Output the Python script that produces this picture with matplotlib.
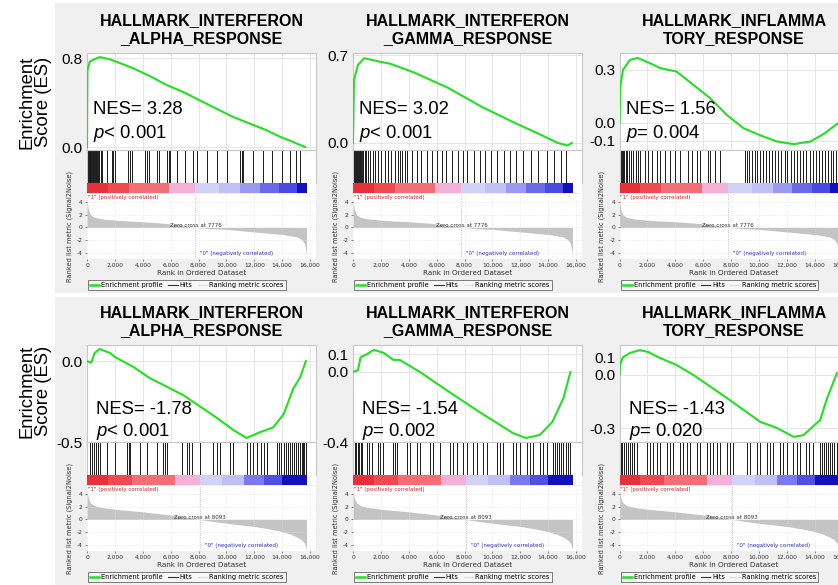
import matplotlib
matplotlib.use("Agg")
import matplotlib.pyplot as plt
from matplotlib.lines import Line2D
from matplotlib.patches import Rectangle

plt.rcParams["font.family"] = ["Liberation Sans", "DejaVu Sans"]
plt.rcParams["mathtext.fontset"] = "custom"
plt.rcParams["mathtext.it"] = "Liberation Sans:italic"
plt.rcParams["mathtext.rm"] = "Liberation Sans"

W, H = 838, 585

# ---- data ----
gene_sets = ["HALLMARK_INTERFERON\n_ALPHA_RESPONSE",
             "HALLMARK_INTERFERON\n_GAMMA_RESPONSE",
             "HALLMARK_INFLAMMA\nTORY_RESPONSE"]

nes_top = ["3.28", "3.02", "1.56"]
p_top = ["< 0.001", "< 0.001", "= 0.004"]
nes_bottom = ["-1.78", "-1.54", "-1.43"]
p_bottom = ["< 0.001", "= 0.002", "= 0.020"]

es_ticks_top = [[0.0, 0.8], [0.0, 0.7], [-0.1, 0.0, 0.3]]
es_ticks_bottom = [[-0.5, 0.0], [-0.4, 0.0, 0.1], [-0.3, 0.0, 0.1]]

# running enrichment score curves (rank, ES)
es_rank_top = [
    [0, 30, 200, 700, 930, 1650, 2500, 3300, 4500, 5700, 7000, 8100, 9300, 10500, 11700, 12900, 13900, 14800, 15650],
    [0, 70, 350, 800, 2000, 2700, 4400, 6800, 9200, 11600, 13500, 14700, 15400, 15700],
    [0, 50, 250, 750, 1300, 2400, 2900, 4100, 5300, 6500, 7700, 8900, 10100, 11300, 12500, 13700, 14700, 15700],
]
es_val_top = [
    [0.0, 0.69, 0.77, 0.80, 0.81, 0.79, 0.75, 0.71, 0.64, 0.56, 0.49, 0.42, 0.345, 0.27, 0.21, 0.15, 0.09, 0.045, 0.0],
    [0.0, 0.5, 0.62, 0.675, 0.645, 0.63, 0.56, 0.44, 0.29, 0.16, 0.064, 0.0, -0.02, 0.0],
    [0.0, 0.2, 0.3, 0.356, 0.367, 0.33, 0.31, 0.29, 0.215, 0.14, 0.045, -0.03, -0.07, -0.105, -0.12, -0.105, -0.06, 0.0],
]
es_rank_bottom = [
    [0, 300, 550, 900, 1650, 2000, 3300, 4500, 6900, 9300, 10500, 11450, 12400, 13350, 14100, 14800, 15300, 15700],
    [0, 350, 550, 900, 1500, 2200, 2900, 3350, 4800, 6700, 9100, 11500, 12400, 13400, 14300, 15100, 15600],
    [0, 30, 250, 750, 1450, 2050, 2900, 4100, 5300, 7700, 10100, 11300, 12500, 13200, 14400, 14900, 15600],
]
es_val_bottom = [
    [0.0, -0.01, 0.05, 0.074, 0.05, 0.025, -0.035, -0.105, -0.21, -0.35, -0.426, -0.475, -0.44, -0.41, -0.33, -0.17, -0.1, 0.0],
    [0.0, 0.01, 0.085, 0.097, 0.126, 0.109, 0.069, 0.069, 0.0, -0.103, -0.23, -0.35, -0.377, -0.36, -0.286, -0.149, 0.0],
    [0.0, 0.056, 0.1, 0.124, 0.14, 0.13, 0.096, 0.056, 0.0, -0.13, -0.265, -0.3, -0.35, -0.34, -0.254, -0.13, 0.01],
]

# positions of gene-set members in the ranked list
hits_top = [
    [0, 40, 90, 130, 180, 230, 290, 350, 410, 470, 540, 610, 700, 790, 880, 980, 1070, 1430, 1800, 1900, 2000,
     2950, 3080, 3230, 4160, 4300, 4450, 5000, 5160, 5740, 5850, 5950, 6450, 7030, 7600, 7890, 8600, 9330,
     10040, 10980, 11100, 11200, 11910, 12630, 13270, 13990, 14560, 15000, 15300],
    [0, 50, 100, 160, 220, 280, 340, 400, 480, 560, 650, 740, 830, 950, 1100, 1250, 1400, 1550, 1800, 2000,
     2300, 2500, 2700, 3000, 3200, 3350, 3500, 3700, 3900, 4200, 4600, 4900, 5300, 5700, 6000, 6400, 6700,
     7100, 7500, 7900, 8200, 8700, 9100, 9500, 9900, 10300, 10800, 11300, 11700, 12200, 12800, 13300, 13900,
     14400, 14900, 15300],
    [0, 80, 160, 250, 350, 450, 560, 680, 820, 980, 1150, 1300, 1470, 1830, 2050, 2320, 2680, 2920, 3270,
     3630, 3980, 4340, 4920, 5200, 5560, 5780, 6360, 6490, 6850, 7210, 9000, 9150, 9300, 9500, 9700, 9850,
     10050, 10300, 10500, 10700, 10950, 11150, 11400, 11600, 11850, 12050, 12300, 12500, 12750, 12950, 13200,
     13400, 13650, 13850, 14100, 14300, 14500, 14750, 14950, 15150, 15350, 15550],
]
hits_bottom = [
    [200, 350, 500, 650, 800, 930, 1430, 2000, 2870, 2980, 3080, 3800, 4300, 5020, 5450, 5600, 5740, 6810,
     7170, 7350, 7530, 8100, 9040, 9300, 9540, 10260, 10470, 11480, 11700, 11910, 12200, 12450, 12700, 12910,
     13630, 13800, 13950, 14100, 14250, 14400, 14550, 14700, 14850, 15000, 15150, 15280, 15400, 15500, 15600,
     15680],
    [140, 240, 340, 440, 540, 640, 1000, 1180, 1360, 1790, 1970, 2150, 2870, 3020, 3160, 3870, 4090, 4590,
     4810, 5520, 5740, 6240, 6960, 7210, 7460, 7890, 8180, 8610, 8900, 9330, 9610, 10330, 10550, 10760, 11480,
     11730, 11980, 12480, 12700, 12910, 13410, 13660, 13920, 14350, 14500, 14650, 14800, 14950, 15100, 15250,
     15400, 15570],
    [0, 100, 200, 320, 450, 600, 750, 900, 1050, 1250, 1970, 2180, 2400, 2690, 2910, 3410, 3620, 3840, 4340,
     4580, 4820, 5060, 5560, 5780, 6280, 6500, 6710, 6990, 7210, 7710, 7930, 8140, 9140, 9360, 9860, 10080,
     10580, 10790, 11000, 11510, 11760, 12020, 12450, 12700, 12950, 13380, 13630, 13880, 14350, 14500, 14650,
     14800, 14950, 15100, 15250, 15400, 15570],
]

# ranked list metric (signal2noise)
metric_rank_top = [0, 30, 100, 250, 500, 1000, 2000, 3000, 4000, 5000, 6000, 7000, 7776, 9000, 10000, 11000,
                   12000, 13000, 14000, 14600, 15100, 15400, 15600, 15700, 15750]
metric_val_top = [4.8, 3.8, 2.8, 2.0, 1.6, 1.35, 1.15, 1.0, 0.9, 0.75, 0.55, 0.3, 0.0, -0.2, -0.3, -0.5,
                  -0.7, -0.9, -1.1, -1.3, -1.5, -1.9, -2.5, -3.5, -4.6]
metric_rank_bottom = [0, 30, 100, 250, 500, 1000, 2000, 3000, 4000, 5000, 6000, 7000, 8093, 9000, 10000, 11000,
                      12000, 13000, 14000, 14600, 15100, 15400, 15600, 15700, 15750]
metric_val_bottom = [5.0, 4.2, 3.3, 2.6, 2.2, 1.9, 1.6, 1.4, 1.2, 0.95, 0.7, 0.4, 0.0, -0.3, -0.6, -0.85,
                     -1.1, -1.45, -1.9, -2.3, -2.8, -3.2, -3.7, -4.3, -4.8]
zero_cross = [7776, 8093]

# heat bar blocks
heat_bounds_top = [0, 1500, 3000, 5900, 7750, 9500, 11000, 12400, 13800, 15100, 15750]
heat_colors_top = ["#e8303a", "#ee4a50", "#f27075", "#f5b0d8", "#d2d2f8", "#c0c0f5", "#9a9af0",
                   "#6a6ae8", "#4a4ae0", "#1010c0"]
heat_bounds_bottom = [0, 1500, 3200, 6300, 8100, 9700, 11300, 12700, 14000, 15750]
heat_colors_bottom = ["#e8303a", "#ee4a50", "#f27075", "#f5b0d8", "#d2d2f8", "#c0c0f5", "#7a7aec",
                      "#5050e2", "#1010c0"]

rank_ticks = list(range(0, 16001, 2000))
rank_tick_labels = ["0"] + [f"{t:,}" for t in rank_ticks[1:]]

# ---- layout (pixels) ----
col_left = [87, 353, 619.5]
ax_w = 229
row_off = [0, 292]
es_ylims = [[(-0.027, 0.847), (-0.056, 0.716), (-0.153, 0.395)],
            [(-0.5, 0.099), (-0.4, 0.154), (-0.379, 0.169)]]
nes_y = [110, 409]
p_y = [133, 431]
nes_dx = [6, 9]
XMAX = 16430
GREEN = "#22e022"
SMALL = ["DejaVu Sans"]


def fbox(x, y, w, h):
    return [x / W, 1 - (y + h) / H, w / W, h / H]


def fpt(x, y):
    return x / W, 1 - y / H


fig = plt.figure(figsize=(W / 100, H / 100), dpi=100)

# light grey panel backgrounds (behind the axes)
for y0, y1 in [(3, 292), (297, 585)]:
    fig.patches.append(Rectangle(fpt(55, y1), (838 - 55) / W, (y1 - y0) / H,
                                 transform=fig.transFigure, color="#f0f0f0", zorder=-5))

rows = [
    (nes_top, p_top, es_ticks_top, es_rank_top, es_val_top, hits_top,
     metric_rank_top, metric_val_top, heat_bounds_top, heat_colors_top),
    (nes_bottom, p_bottom, es_ticks_bottom, es_rank_bottom, es_val_bottom, hits_bottom,
     metric_rank_bottom, metric_val_bottom, heat_bounds_bottom, heat_colors_bottom),
]

for r, (nes, pv, eticks, erank, evals, hits, mrank, mvals, hb, hc) in enumerate(rows):
    off = row_off[r]
    fig.text(*fpt(35, 102 + off - 3 * r), "Enrichment\nScore (ES)", rotation=90, ha="center",
             va="center", fontsize=13.3, linespacing=0.95)
    for c in range(3):
        cl = col_left[c]
        # title
        fig.text(*fpt(cl + ax_w / 2, 29.5 + off), gene_sets[c], ha="center", va="center",
                 fontsize=11.5, fontweight="bold", linespacing=1.3)

        # enrichment score plot
        ax = fig.add_axes(fbox(cl, 53 + off, ax_w, 97))
        ax.plot(erank[c], evals[c], color=GREEN, lw=1.5, zorder=3)
        ax.set_xlim(0, XMAX)
        ax.set_ylim(*es_ylims[r][c])
        ax.set_xticks(rank_ticks)
        ax.set_xticklabels([])
        ax.set_yticks(eticks[c])
        ax.set_yticklabels([f"{v:.1f}" for v in eticks[c]], fontsize=11)
        ax.tick_params(length=0, pad=3)
        ax.grid(True, color="#e2e2e2", lw=0.6)
        ax.set_axisbelow(True)
        for s in ax.spines.values():
            s.set_color("#c8c8c8")
        ax.text(0, 0, "")
        fig.text(*fpt(cl + nes_dx[r], nes_y[r]), f"NES= {nes[c]}", ha="left", va="center",
                 fontsize=13.3, zorder=5)
        fig.text(*fpt(cl + nes_dx[r], p_y[r]), r"$\mathit{p}$" + pv[c], ha="left", va="center",
                 fontsize=13.3, zorder=5)

        # hits
        axh = fig.add_axes(fbox(cl, 150 + off, ax_w, 33))
        axh.vlines(hits[c], 0, 1, color="#1a1a1a", lw=0.7)
        axh.set_xlim(0, XMAX)
        axh.set_ylim(0, 1)
        axh.set_xticks([])
        axh.set_yticks([])
        for s in axh.spines.values():
            s.set_color("#c8c8c8")

        # heat bar
        axc = fig.add_axes(fbox(cl, 183 + off, ax_w, 10))
        for i in range(len(hc)):
            axc.axvspan(hb[i], hb[i + 1], color=hc[i], lw=0)
        axc.set_xlim(0, XMAX)
        axc.set_xticks([])
        axc.set_yticks([])
        for s in axc.spines.values():
            s.set_visible(False)
        axc.set_facecolor("white")

        # ranked list metric
        axr = fig.add_axes(fbox(cl, 194 + off, ax_w, 65))
        axr.fill_between(mrank, mvals, 0, color="#c4c4c4", lw=0)
        axr.axvline(zero_cross[r], color="#b0b0b0", lw=0.6, ls=":")
        axr.set_xlim(0, XMAX)
        axr.set_ylim(-4.95, 5.25)
        axr.set_xticks(rank_ticks)
        axr.set_xticklabels(rank_tick_labels, fontsize=4.3, family=SMALL)
        axr.set_yticks([-4, -2, 0, 2, 4])
        axr.set_yticklabels(["-4", "-2", "0", "2", "4"], fontsize=4.3, family=SMALL)
        axr.tick_params(length=1.5, width=0.4, pad=1.5, colors="#333333")
        axr.grid(True, color="#e0e0e0", lw=0.5, ls=":")
        for s in axr.spines.values():
            s.set_visible(False)
        axr.set_xlabel("Rank in Ordered Dataset", fontsize=5.2, family=SMALL, labelpad=1, color="#333333")
        axr.set_ylabel("Ranked list metric (Signal2Noise)", fontsize=4.8, family=SMALL, labelpad=3,
                       color="#333333")
        axr.text(60, 4.75, '"1" (positively correlated)', color="#dd2222", fontsize=4, family=SMALL,
                 ha="left", va="center")
        axr.text(zero_cross[r] + 350, -4.1, '"0" (negatively correlated)', color="#3333cc", fontsize=4,
                 family=SMALL, ha="left", va="center")
        axr.text(zero_cross[r], 0.35, f"Zero cross at {zero_cross[r]}", color="#333333", fontsize=4,
                 family=SMALL, ha="center", va="center")

        handles = [Line2D([], [], color=GREEN, lw=1.8),
                   Line2D([], [], color="#333333", lw=0.8),
                   Line2D([], [], color="#dddddd", lw=0.8)]
        leg = fig.legend(handles, ["Enrichment profile", "Hits", "Ranking metric scores"],
                         loc="upper left", bbox_to_anchor=fpt(cl + 1, 280 + off), ncol=3,
                         prop={"family": SMALL, "size": 4.8}, frameon=True, fancybox=False,
                         edgecolor="#444444", handlelength=1.4, handletextpad=0.3,
                         columnspacing=0.8, borderpad=0.3, borderaxespad=0)
        leg.get_frame().set_linewidth(0.6)
        leg.get_frame().set_facecolor("#fafafa")

fig.savefig("out.png", dpi=100)
